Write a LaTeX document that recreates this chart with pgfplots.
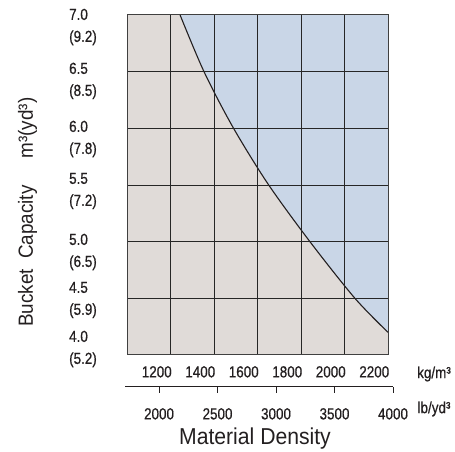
\documentclass[border=0pt]{standalone}
\usepackage{fontspec}
\setmainfont{Liberation Sans}[FakeStretch=0.84, FakeBold=0.6]
\newfontfamily\widefont{Liberation Sans}[FakeStretch=0.92]
\usepackage{pgfplots}
\pgfplotsset{compat=1.18}
\usepgfplotslibrary{fillbetween}

\definecolor{sand}{HTML}{E0DBD8}
\definecolor{sky}{HTML}{C9D6E7}
\definecolor{ink}{HTML}{231F20}

\begin{document}
\begin{tikzpicture}[x=1bp,y=1bp]

% main chart, kg/m3 against m3
\begin{axis}[
  at={(127bp,97bp)}, anchor=south west,
  scale only axis, width=261bp, height=340bp,
  xmin=1100, xmax=2300, ymin=4, ymax=7,
  set layers, axis on top,
  axis background/.style={fill=sand},
  axis line style={draw=black!75, line width=1bp},
  major tick length=0pt,
  grid=major,
  major grid style={draw=black!85, line width=0.9bp},
  xtick={1300,1500,...,2100}, xticklabels={},
  ytick={4.5,5,...,6.5}, yticklabels={},
  extra x ticks={1200,1400,1600,1800,2000,2200},
  extra x tick labels={1200,1400,1600,1800,2000,2200},
  extra x tick style={xmajorgrids=false},
  extra y ticks={6.894,6.418,5.906,5.447,4.909,4.485,4.053},
  extra y tick labels={{7.0\\(9.2)},{6.5\\(8.5)},{6.0\\(7.8)},{5.5\\(7.2)},{5.0\\(6.5)},{4.5\\(5.9)},{4.0\\(5.2)}},
  extra y tick style={ymajorgrids=false},
  ticklabel style={font=\fontsize{16bp}{22bp}\selectfont, text=ink},
  xticklabel style={anchor=north, inner sep=0pt, yshift=-11bp, xshift=8bp},
  yticklabel style={anchor=east, inner sep=0pt, align=left, xshift=-30bp},
]
\addplot[name path=curve, smooth, ink, line width=1.1bp] coordinates {
(1344,7.00) (1454,6.50) (1587,6.01) (1748,5.51) (1941,5.00) (2148,4.50) (2300,4.20)
};
\addplot[name path=top, draw=none] coordinates {(1344,7) (2300,7)};
\addplot[sky, draw=none] fill between[of=curve and top];
\end{axis}

% lb/yd3 scale
\begin{axis}[
  at={(125bp,65bp)}, anchor=south west,
  scale only axis, width=268bp, height=5bp,
  xmin=1709, xmax=4000, ymin=0, ymax=1,
  hide y axis, axis x line=bottom,
  axis line style={-, draw=ink, line width=1bp},
  tick align=outside, major tick length=6bp,
  tick style={draw=ink, line width=1bp},
  xtick={2000,2500,3000,3500,4000},
  xticklabels={2000,2500,3000,3500,4000},
  ticklabel style={font=\fontsize{16bp}{22bp}\selectfont, text=ink},
  xticklabel style={anchor=north, inner sep=0pt, yshift=-15bp},
]
\addplot[draw=none] coordinates {(2000,0) (4000,1)};
\end{axis}

\node[font=\fontsize{16bp}{20bp}\selectfont, text=ink] at (434,78) {kg/m³};
\node[font=\fontsize{16bp}{20bp}\selectfont, text=ink] at (434,43) {lb/yd³};
\node[font=\widefont\fontsize{23bp}{28bp}\selectfont, text=ink, anchor=base] at (255,7) {Material Density};
\node[font=\widefont\fontsize{20.5bp}{25bp}\selectfont, text=ink, rotate=90] at (27.5,196) {Bucket\hspace{0.5em}Capacity};
\node[font=\widefont\fontsize{20.5bp}{25bp}\selectfont, text=ink, rotate=90] at (27.5,324) {m³(yd³)};

\pgfresetboundingbox
\useasboundingbox (0,0) rectangle (455,452);
\end{tikzpicture}
\end{document}
